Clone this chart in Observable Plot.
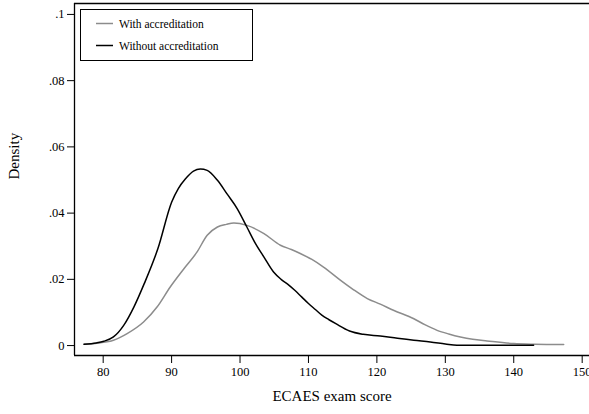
<!DOCTYPE html>
<html>
<head>
<meta charset="utf-8">
<script src="https://cdn.jsdelivr.net/npm/d3@7"></script>
<script src="https://cdn.jsdelivr.net/npm/@observablehq/plot@0.6"></script>
<style>
  html, body { margin: 0; padding: 0; background: #fff; }
  #chart svg { display: block; overflow: hidden; }
  #chart svg text { font-family: 'Liberation Serif', 'Times New Roman', serif !important; }
</style>
</head>
<body>
<div id="chart"></div>
<script>
// Kernel density of ECAES exam scores, by programme accreditation status
const seriesNames = ["With accreditation", "Without accreditation"];
const seriesColors = ["#8c8c8c", "#000000"];

const withScore = [77.2, 79.5, 81.5, 83.5, 85.9, 87.9, 89.8, 91.8, 93.7, 95.2, 96.7, 98.0, 99.1, 101.0,
  103.5, 105.9, 107.5, 108.8, 110.5, 112.2, 114.7, 116.5, 118.6, 120.5, 122.5, 125.4, 127.0, 128.8,
  130.5, 132.2, 134.0, 136.1, 140.0, 143.0, 147.3];
const withDensity = [0.0004, 0.0008, 0.0016, 0.0036, 0.0071, 0.0117, 0.0177, 0.0232, 0.0282, 0.0333, 0.0358,
  0.0366, 0.0370, 0.0363, 0.0338, 0.0303, 0.0290, 0.0278, 0.0260, 0.0237, 0.0197, 0.0170, 0.0142,
  0.0125, 0.0106, 0.0081, 0.0063, 0.0046, 0.0035, 0.0026, 0.0019, 0.0014, 0.0006, 0.0004, 0.0003];

const withoutScore = [77.2, 79.0, 80.1, 81.5, 83.0, 84.5, 86.0, 88.0, 90.0, 91.0, 92.0, 93.2, 94.2,
  95.2, 96.7, 98.1, 99.6, 101.0, 102.2, 103.5, 104.9, 106.0, 107.0, 108.0, 109.0, 110.0, 111.0,
  112.0, 113.0, 114.0, 116.0, 118.0, 120.5, 123.0, 125.4, 127.8, 130.0, 131.7, 135.0, 142.9];
const withoutDensity = [0.0004, 0.0008, 0.0013, 0.0026, 0.0061, 0.0117, 0.0187, 0.0293, 0.0433, 0.0475,
  0.0503, 0.0527, 0.0533, 0.0529, 0.0499, 0.0458, 0.0413, 0.0358, 0.0310, 0.0267, 0.0222, 0.0200,
  0.0185, 0.0167, 0.0147, 0.0127, 0.0109, 0.0091, 0.0078, 0.0066, 0.0044, 0.0034, 0.0029, 0.0022,
  0.0016, 0.0011, 0.0005, 0.0001, 0.0001, 0.0001];

const xTicks = [80, 90, 100, 110, 120, 130, 140, 150];
const yTicks = [0, 0.02, 0.04, 0.06, 0.08, 0.1];
const xTitle = "ECAES exam score";
const yTitle = "Density";

const xDomain = [75.81, 151.07];
const yDomain = [-0.003, 0.1033];

const rows = [
  ...withScore.map((s, i) => ({score: s, density: withDensity[i], group: seriesNames[0]})),
  ...withoutScore.map((s, i) => ({score: s, density: withoutDensity[i], group: seriesNames[1]}))
];

const font = "'Liberation Serif', 'Times New Roman', serif";

const chart = Plot.plot({
  width: 589,
  height: 414,
  marginLeft: 74,
  marginTop: 3,
  marginRight: 0,
  marginBottom: 59,
  style: {fontFamily: font, background: "#fff", color: "#000"},
  x: {domain: xDomain},
  y: {domain: yDomain},
  color: {domain: seriesNames, range: seriesColors},
  marks: [
    // plot region border: left, top and bottom edges
    Plot.ruleX([xDomain[0]], {stroke: "#000", strokeWidth: 1.3}),
    Plot.ruleY([yDomain[1]], {stroke: "#000", strokeWidth: 1.3}),
    Plot.ruleY([yDomain[0]], {stroke: "#000", strokeWidth: 1.3}),
    Plot.axisX({ticks: xTicks, tickSize: 8, tickPadding: 4, fontSize: 12.5, fontFamily: font,
      label: null, tickFormat: d => String(d), stroke: "#000"}),
    Plot.axisY({ticks: yTicks, tickSize: 7, tickPadding: 3, fontSize: 12.5, fontFamily: font,
      label: null, tickFormat: d => d === 0 ? "0" : String(d).replace(/^0/, ""), stroke: "#000"}),
    Plot.line(rows, {x: "score", y: "density", z: "group", stroke: "group",
      strokeWidth: 1.5, curve: "monotone-x"}),
    Plot.text([xTitle], {frameAnchor: "bottom", dy: 45, fontSize: 15, fontFamily: font, fill: "#000"}),
    Plot.text([yTitle], {frameAnchor: "left", dx: -60, rotate: -90, fontSize: 15, fontFamily: font, fill: "#000"})
  ]
});

// legend box inside the top-left corner of the plot area
const svg = d3.select(chart);
const legend = svg.append("g")
  .attr("font-family", font).attr("font-size", 11.5).attr("text-anchor", "start");
legend.append("rect")
  .attr("x", 80.5).attr("y", 9.5).attr("width", 172).attr("height", 51)
  .attr("fill", "#fff").attr("stroke", "#000").attr("stroke-width", 1);
seriesNames.forEach((name, i) => {
  const y = 23.5 + i * 22;
  legend.append("line")
    .attr("x1", 96).attr("x2", 113).attr("y1", y).attr("y2", y)
    .attr("stroke", seriesColors[i]).attr("stroke-width", 1.5);
  legend.append("text")
    .attr("x", 119).attr("y", y).attr("dy", "0.35em")
    .attr("fill", "#000").text(name);
});

document.getElementById("chart").appendChild(chart);
</script>
</body>
</html>
